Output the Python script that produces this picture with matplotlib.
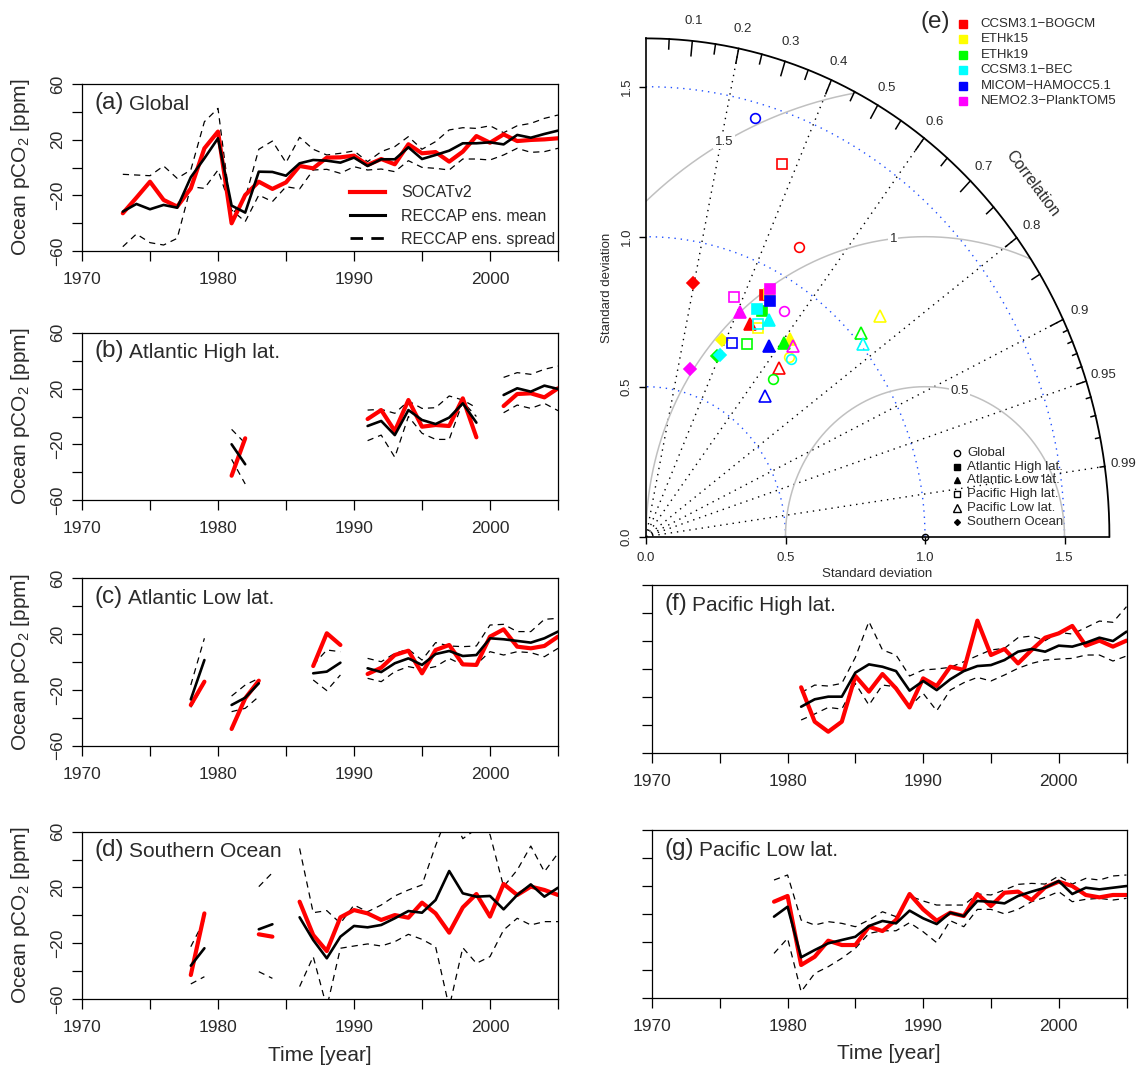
import numpy as np
import matplotlib
matplotlib.use("Agg")
import matplotlib.pyplot as plt
from matplotlib.lines import Line2D

plt.rcParams['font.family'] = ['Liberation Sans', 'DejaVu Sans']
plt.rcParams['mathtext.fontset'] = 'custom'
plt.rcParams['mathtext.rm'] = 'Liberation Sans'
plt.rcParams['mathtext.it'] = 'Liberation Sans:italic'
plt.rcParams['mathtext.bf'] = 'Liberation Sans:bold'

N = np.nan
YEARS = np.arange(1973, 2006)
XTICKS = np.arange(1970, 2006, 5)
YTICKS = np.arange(-60, 61, 20)
YTICK_SHOWN = [-60, -20, 20, 60]

# ---------------- time series data (1973..2005) ----------------
A_SOCAT = [-32.9, -21.7, -10.2, -23.3, -28.1, -15, 13.8, 25.8, -40.1, -19.8,
           -10.2, -15.4, -10.7, 1.1, -0.6, 7.1, 7.3, 8.5, 1.8, 6.1,
           2.3, 16.7, 10.2, 11.1, 4.2, 11.4, 22.6, 17.8, 23.8, 19, 19.8, 20.2, 21]
A_MEAN = [-31.7, -26.2, -30, -26.9, -28.9, -7, 6.6, 21, -27.4, -32.4,
          -3, -3.2, -5.9, 3, 5.4, 4.9, 3.5, 7.1, 1.1, 5.9,
          5.9, 14.5, 6.1, 9, 12.1, 17.4, 17.4, 18.1, 16.6, 23.4, 21.4, 24.1, 26.5]
A_HI = [-4.9, -5.4, -5.9, 1.1, -7.8, -1.8, 32.9, 42.5, -34.1, -22.1,
        13.1, 19, 3.5, 21.7, 13.1, 9, 10.2, 11.9, 4.2, 11.4,
        15, 22.2, 13.1, 18.6, 27, 28.6, 28.1, 30, 25, 30, 31.7, 35.3, 37.7]
A_LO = [-56.9, -47.8, -54, -55.7, -50.9, -13.8, -15, -1.8, -30.5, -38.9,
        -19.8, -24.5, -13.8, -15.4, -1.8, -1.3, -4.2, 0.6, -1.8, -1.1,
        -3, 4.9, 0.1, -0.6, -1.8, 6.1, 6.1, 5.4, 9, 13.8, 10.9, 11.4, 13.8]

B_SOCAT = [N]*8 + [-42.4, -15.6] + [N]*8 + [-1.8, 4.6, -10.4, 11.8, -7.3, -6.1, -6.8, 13.0, -14.9] + [N] + [7.5, 16.1, 16.6, 13.7, 20.2]
B_MEAN = [N]*8 + [-19.9, -34.2] + [N]*8 + [-6.8, -3.2, -13.3, 4.6, -2.5, -5.4, -0.8, 9.4, -4.4] + [N] + [15.4, 20.2, 17.8, 22.1, 19.7]
B_HI = [N]*8 + [-9.2, -19.2] + [N]*8 + [4.6, 5.1, 2.3, 11.1, 5.8, 6.3, 14.7, 11.8, 6.3] + [N] + [28, 31.4, 30.2, 33.8, 36.1]
B_LO = [N]*8 + [-30.7, -48.3] + [N]*8 + [-17.3, -13.3, -29.2, 0, -12, -16.4, -16.4, 10.5, 0] + [N] + [2.7, 8.2, 5.8, 9.4, 4.2]

C_SOCAT = [N]*5 + [-30.8, -14.1] + [N] + [-48, -26, -13.4] + [N]*3 + [-2.9, 20.6, 12.2] + [N] + \
          [-8.6, -4.1, 5, 8.1, -8.1, 8.6, 12.2, -1.7, -2.1, 18.2, 23.4, 11, 9.8, 11.5, 18.2]
C_MEAN = [N]*5 + [-26.8, 1.4] + [N] + [-30.8, -25.6, -15.3] + [N]*3 + [-8.1, -6.9, -0.5] + [N] + \
         [-4.5, -7.2, -0.9, 2.6, -2.1, 5.7, 7.9, 4.3, 5, 17, 16.3, 15.1, 13.9, 17, 21.8]
C_HI = [N]*5 + [-16.5, 17] + [N] + [-24.4, -16.5, -11.7] + [N]*3 + [-2.1, 8.6, 7.4] + [N] + \
       [2.6, 0.2, 6.2, 9.1, 1.4, 13.9, 11.5, 11, 11.5, 26.5, 27, 21.8, 21.8, 30.6, 31.3]
C_LO = [N]*5 + [-32.5, -15.3] + [N] + [-35.6, -33.2, -24.8] + [N]*3 + [-12.9, -20.5, -9.3] + [N] + \
       [-11.7, -14.1, -6.9, -3.3, -5.3, -3.3, 2.6, -2.1, -1.7, 7.4, 5, 7.4, 6.7, 3.8, 9.8]

D_SOCAT = [N]*5 + [-42.8, 1.4] + [N]*3 + [-13.6, -15.3] + [N] + \
          [9.8, -14.1, -25.6, -1.4, 3.8, 1.4, -3.3, 0.2, -1.7, 9.1, 1.4, -12.4, 5.7, 15.3, -0.9, 22.5, 14.6, 20.6, 18.2, 14.6]
D_MEAN = [N]*5 + [-36.1, -23.6] + [N]*3 + [-10, -6.4] + [N] + \
         [-1.4, -17.7, -30.8, -15.3, -7.6, -8.6, -6.9, -2.1, 3.1, 1.9, 11, 31.8, 15.8, 13.4, 13.9, 4.3, 14.6, 22.2, 13.4, 19.8]
D_HI = [N]*5 + [-22.5, -3.3] + [N]*3 + [20.6, 30.6] + [N] + \
       [48, 1.9, 3.4, -5.7, 7.4, 2.6, 7.4, 13.9, 18.2, 21.8, 50, 75, 55, 62, 58, 20.6, 32.5, 49.7, 31.3, 44.5]
D_LO = [N]*5 + [-49.2, -44] + [N]*3 + [-40.4, -45.2] + [N] + \
       [-51.1, -29.6, -66, -23.6, -22, -20.5, -22, -18.9, -13.6, -17.2, -22.5, -66, -23.2, -34.4, -29.6, -10.5, -2.1, -6.9, -4.5, -4.5]

F_SOCAT = [N]*8 + [-13.2, -37.8, -45, -37.8, -5.1, -16.3, -3.7, -14, -27.6, -6.8,
                   -12.3, 1.5, -0.8, 34.5, 9.9, 14.2, 3.9, 13.5, 22.3, 25.4, 30.7, 16.6, 20.2, 15.9, 20.2]
F_MEAN = [N]*8 + [-27.1, -21.8, -19.9, -19.9, -2.7, 3.2, 1.5, -1.6, -15.6, -8.7,
                  -15.2, -7.5, -1.6, 2, 2.7, 6.3, 12.3, 14.2, 12.3, 16.6, 15.9, 18.7, 22.3, 19.9, 26.6]
F_HI = [N]*8 + [-17, -11.6, -12.3, -10.4, 8.2, 33.8, 13.5, 9.9, -5.1, -0.8,
                -0.1, 1.1, 5.1, 9.4, 13.5, 14.7, 22.3, 23.5, 20.2, 26.1, 24.9, 29.5, 34.2, 33.3, 44.5]
F_LO = [N]*8 + [-36.6, -32.3, -27.6, -28.8, -10.4, -25.9, -11.6, -12.8, -27.1, -17.5,
                -30, -15.2, -9.9, -6.1, -8.7, -4.4, 0.4, 3.9, 6.3, 7, 7.5, 9.9, 9.9, 5.6, 9.2]

G_SOCAT = [N]*6 + [8.7, 12.8, -36.6, -30.7, -19.2, -22.3, -22.3, -9.2, -12.3, -4.4,
                   14.2, 3.2, -4.9, 0.8, -1.6, 14.2, 5.6, 15.1, 15.9, 9.9, 19, 23, 19.9, 13.5, 11.8, 13.5, 13.5]
G_MEAN = [N]*6 + [-2, 5.1, -31.1, -25.9, -21.1, -18.7, -16.4, -8.7, -5.1, -6.8,
                  2.3, -3.2, -7.3, 0.8, -1.6, 9.2, 8.7, 7.5, 12.8, 15.9, 18.7, 23.5, 14.2, 18.7, 17.5, 18.7, 19.9]
G_HI = [N]*6 + [24.2, 27.8, -4.4, -8, -5.6, -6.8, -9.2, -4.4, 1.5, -2,
                12.8, 9.2, 6.3, 6.3, 6.3, 14.2, 13.5, 17.1, 21.1, 21.8, 21.3, 27.1, 21.3, 25.4, 24.2, 27.1, 27.8]
G_LO = [N]*6 + [-28.3, -17.5, -55.7, -42.6, -37.8, -31.8, -24.7, -14, -12.1, -12.1,
                -6.3, -12.8, -20.6, -4.9, -9.2, 3.2, 3.2, 0, 3.2, 8.7, 11.8, 15.9, 8.7, 10.4, 11.1, 9.9, 11.1]

LEGEND_LABELS = ['SOCATv2', 'RECCAP ens. mean', 'RECCAP ens. spread']

# ---------------- Taylor diagram data (normalised SD, correlation) ----------------
MODELS = ['CCSM3.1\u2212BOGCM', 'ETHk15', 'ETHk19', 'CCSM3.1\u2212BEC',
          'MICOM\u2212HAMOCC5.1', 'NEMO2.3\u2212PlankTOM5']
MODEL_COLORS = ['#ff0000', '#ffff00', '#00ff00', '#00ffff', '#0000ff', '#ff00ff']
REGION_NAMES = ['Global', 'Atlantic High lat.', 'Atlantic Low lat.',
                'Pacific High lat.', 'Pacific Low lat.', 'Southern Ocean']
SD_GLOBAL = [1.109, 0.790, 0.696, 0.789, 1.451, 0.900]
R_GLOBAL = [0.494, 0.651, 0.655, 0.659, 0.270, 0.551]
SD_ATL_HIGH = [0.911, 0.922, 0.861, 0.857, 0.903, 0.937]
R_ATL_HIGH = [0.469, 0.477, 0.484, 0.463, 0.494, 0.476]
SD_ATL_LOW = [0.801, 0.838, 0.812, 0.845, 0.772, 0.820]
R_ATL_LOW = [0.464, 0.616, 0.608, 0.522, 0.570, 0.411]
SD_PAC_HIGH = [1.336, 0.803, 0.738, 0.815, 0.717, 0.858]
R_PAC_HIGH = [0.366, 0.501, 0.492, 0.491, 0.430, 0.366]
SD_PAC_LOW = [0.739, 1.114, 1.028, 1.008, 0.633, 0.824]
R_PAC_LOW = [0.647, 0.752, 0.751, 0.770, 0.674, 0.638]
SD_SO = [0.863, 0.708, 0.655, 0.662, N, 0.580]
R_SO = [0.196, 0.383, 0.388, 0.399, N, 0.269]
REF_SD = 1.0
MAXR = 1.661
SD_TICKS = [0.0, 0.5, 1.0, 1.5]
SD_ARCS = [0.5, 1.0, 1.5]
RMS_ARCS = [0.5, 1.0, 1.5]
RMS_LABELS = ['0.5', '1', '1.5']
CORR_RAYS = [0.2, 0.4, 0.6, 0.8, 0.9, 0.95, 0.99]
CORR_LABELS = [0.1, 0.2, 0.3, 0.4, 0.5, 0.6, 0.7, 0.8, 0.9, 0.95, 0.99]
CORR_BIG = [0.1, 0.2, 0.3, 0.4, 0.5, 0.6, 0.7, 0.8, 0.9]
CORR_MED = [0.05, 0.15, 0.25, 0.35, 0.45, 0.55, 0.65, 0.75, 0.85, 0.95]
CORR_SML = [0.91, 0.92, 0.93, 0.94, 0.96, 0.97, 0.98, 0.99]

TXT = '#2a2a2a'
W, H = 1139, 1067
fig = plt.figure(figsize=(W / 100, H / 100), dpi=100)


def px_axes(left, top, right, bottom):
    return fig.add_axes([left / W, 1 - bottom / H, (right - left) / W, (bottom - top) / H])


def ylab_text(v):
    if v not in YTICK_SHOWN:
        return ''
    return ('\u2212%d' % (-v)) if v < 0 else '%d' % v


def ts_panel(box, red, black, hi, lo, letter, name, ylabels=True, xlabel=False, legend=False):
    ax = px_axes(*box)
    ax.plot(YEARS, hi, color='k', lw=0.9, dashes=(5, 4))
    ax.plot(YEARS, lo, color='k', lw=0.9, dashes=(5, 4))
    ax.plot(YEARS, red, color='#ff0000', lw=3.0, solid_capstyle='round')
    ax.plot(YEARS, black, color='k', lw=1.9, solid_capstyle='round')
    ax.set_xlim(1970, 2005)
    ax.set_ylim(-60, 60)
    ax.set_xticks(XTICKS)
    ax.set_xticklabels([str(t) if t % 10 == 0 else '' for t in XTICKS])
    ax.set_yticks(YTICKS)
    if ylabels:
        ax.set_yticklabels([ylab_text(v) for v in YTICKS], rotation=90, va='center')
        ax.set_ylabel('Ocean pCO$_{\\mathrm{2}}$ [ppm]', fontsize=15, color=TXT)
        ax.yaxis.set_label_coords(-0.130, 0.5)
        ax.yaxis.label.set_va('center')
    else:
        ax.set_yticklabels([])
    ax.tick_params(direction='out', length=7, width=0.9, labelsize=12.5, pad=5,
                   labelcolor=TXT, color='k')
    ax.tick_params(axis='x', pad=8)
    for s in ax.spines.values():
        s.set_linewidth(0.9)
    if xlabel:
        ax.set_xlabel('Time [year]', fontsize=15, color=TXT)
        ax.xaxis.set_label_coords(0.5, -0.335)
        ax.xaxis.label.set_va('center')
    t1 = ax.text(0.027, 0.888, letter, transform=ax.transAxes, fontsize=17.5,
                 va='center', ha='left', color=TXT)
    ax.annotate(name, xy=(1, 0), xycoords=t1, xytext=(3.5, 0), textcoords='offset points',
                fontsize=15, va='bottom', ha='left', color=TXT)
    if legend:
        handles = [Line2D([], [], color='#ff0000', lw=3.0),
                   Line2D([], [], color='k', lw=2.2),
                   Line2D([], [], color='k', lw=2.0, dashes=(4.5, 3))]
        leg = ax.legend(handles, LEGEND_LABELS, loc='upper left', bbox_to_anchor=(0.563, 0.393),
                        frameon=False, fontsize=11.5, handlelength=2.2, handletextpad=1.0,
                        labelspacing=0.51, borderpad=0, borderaxespad=0)
        for t in leg.get_texts():
            t.set_color(TXT)
    return ax


ts_panel((82, 84, 558, 251), A_SOCAT, A_MEAN, A_HI, A_LO, '(a)', 'Global', legend=True)
ts_panel((82, 332.7, 558, 500.3), B_SOCAT, B_MEAN, B_HI, B_LO, '(b)', 'Atlantic High lat.')
ts_panel((82, 578.3, 558, 745.7), C_SOCAT, C_MEAN, C_HI, C_LO, '(c)', 'Atlantic Low lat.')
ts_panel((82, 831.7, 558, 999), D_SOCAT, D_MEAN, D_HI, D_LO, '(d)', 'Southern Ocean', xlabel=True)
ts_panel((652, 585, 1126.5, 752.7), F_SOCAT, F_MEAN, F_HI, F_LO, '(f)', 'Pacific High lat.', ylabels=False)
ts_panel((652, 830, 1126.5, 997.7), G_SOCAT, G_MEAN, G_HI, G_LO, '(g)', 'Pacific Low lat.', ylabels=False, xlabel=True)

# ---------------- Taylor diagram ----------------
XSPAN = 1.75
axT = px_axes(646, 536.7 - XSPAN * 300, 646 + XSPAN * 279, 536.7)
axT.set_xlim(0, XSPAN)
axT.set_ylim(0, XSPAN)
axT.patch.set_visible(False)
for s in ('top', 'right'):
    axT.spines[s].set_visible(False)
for s in ('left', 'bottom'):
    axT.spines[s].set_bounds(0, MAXR)
    axT.spines[s].set_linewidth(1.2)
axT.set_xticks(SD_TICKS)
axT.set_yticks(SD_TICKS)
axT.set_xticklabels(['%.1f' % v for v in SD_TICKS])
axT.set_yticklabels(['%.1f' % v for v in SD_TICKS], rotation=90, va='center')
axT.tick_params(direction='out', length=5, width=1.0, labelsize=9.5, pad=4.5,
                labelcolor=TXT, color='k')
axT.tick_params(axis='x', pad=6)
axT.set_xlabel('Standard deviation', fontsize=9.5, color=TXT)
axT.set_ylabel('Standard deviation', fontsize=9.5, color=TXT)
axT.xaxis.set_label_coords(0.83 / XSPAN, -0.125 / XSPAN)
axT.xaxis.label.set_va('center')
axT.yaxis.set_label_coords(-0.141 / XSPAN, 0.83 / XSPAN)
axT.yaxis.label.set_va('center')

th = np.linspace(0, np.pi / 2, 400)
for r in SD_ARCS:
    axT.plot(r * np.cos(th), r * np.sin(th), color='#1f4fff', lw=1.0, dashes=(1, 3.5), zorder=1)
for c in CORR_RAYS:
    a = np.arccos(c)
    axT.plot([0, MAXR * np.cos(a)], [0, MAXR * np.sin(a)], color='k', lw=1.0,
             dashes=(1, 3.5), zorder=1)
ph = np.linspace(0, np.pi, 800)
RMS_LABEL_ANG = [75.8, 96.5, 118.7]
for r, lab, ang in zip(RMS_ARCS, RMS_LABELS, RMS_LABEL_ANG):
    x = REF_SD + r * np.cos(ph)
    y = r * np.sin(ph)
    m = (np.hypot(x, y) <= MAXR) & (x >= 0)
    axT.plot(np.where(m, x, np.nan), np.where(m, y, np.nan), color='#c0c0c0', lw=1.1, zorder=1)
    a = np.deg2rad(ang)
    axT.text(REF_SD + r * np.cos(a), r * np.sin(a), lab, fontsize=9.5, color=TXT,
             ha='center', va='center', zorder=2,
             bbox=dict(boxstyle='square,pad=0.1', fc='white', ec='none'))
axT.plot(MAXR * np.cos(th), MAXR * np.sin(th), color='k', lw=1.3, clip_on=False)
for vals, frac in ((CORR_BIG, 0.03), (CORR_MED, 0.02), (CORR_SML, 0.01)):
    for c in vals:
        a = np.arccos(c)
        axT.plot([MAXR * np.cos(a), (1 - frac) * MAXR * np.cos(a)],
                 [MAXR * np.sin(a), (1 - frac) * MAXR * np.sin(a)], color='k', lw=1.1,
                 clip_on=False)
for c in CORR_LABELS:
    a = np.arccos(c)
    axT.text(1.04 * MAXR * np.cos(a), 1.04 * MAXR * np.sin(a), ('%g' % c), fontsize=9.5,
             color=TXT, ha='center', va='center', clip_on=False)
axT.text(1.385, 1.178, 'Correlation', rotation=-53, fontsize=11.5, color=TXT,
         ha='center', va='center', rotation_mode='anchor')
axT.plot([REF_SD], [0], marker='o', ms=4.5, mfc='none', mec='k', mew=1.0, clip_on=False, zorder=4)

REGIONS = [(SD_GLOBAL, R_GLOBAL, 'o', False, 7.0),
           (SD_ATL_HIGH, R_ATL_HIGH, 's', True, 7.0),
           (SD_ATL_LOW, R_ATL_LOW, '^', True, 8.0),
           (SD_PAC_HIGH, R_PAC_HIGH, 's', False, 7.0),
           (SD_PAC_LOW, R_PAC_LOW, '^', False, 8.5),
           (SD_SO, R_SO, 'D', True, 6.0)]
for mi, col in enumerate(MODEL_COLORS):
    for sds, rs, mk, filled, ms in REGIONS:
        sd, r = sds[mi], rs[mi]
        if np.isnan(sd):
            continue
        axT.plot(sd * r, sd * np.sqrt(1 - r * r), marker=mk, ms=ms, ls='none',
                 mfc=col if filled else 'none', mec=col, mew=1.2, zorder=3)

# model legend
axT.text(1.036, 1.715, '(e)', fontsize=17.5, color=TXT, ha='center', va='center')
for i, (name, col) in enumerate(zip(MODELS, MODEL_COLORS)):
    yy = 1.709 - i * 0.0513
    axT.plot(1.137, yy, marker='s', ms=5.5, mfc=col, mec=col, ls='none', clip_on=False)
    axT.text(1.2, yy, name, fontsize=9.5, color=TXT, ha='left', va='center')

# region legend
LEG_MARK = [('o', False, 4.5), ('s', True, 4.0), ('^', True, 5.0),
            ('s', False, 4.2), ('^', False, 5.5), ('D', True, 3.0)]
for i, (name, (mk, filled, ms)) in enumerate(zip(REGION_NAMES, LEG_MARK)):
    yy = 0.280 - i * 0.0462
    axT.plot(1.113, yy, marker=mk, ms=ms, ls='none', mfc='k' if filled else 'none',
             mec='k', mew=1.0)
    axT.text(1.151, yy, name, fontsize=9.5, color=TXT, ha='left', va='center')

fig.savefig('out.png', dpi=100)
